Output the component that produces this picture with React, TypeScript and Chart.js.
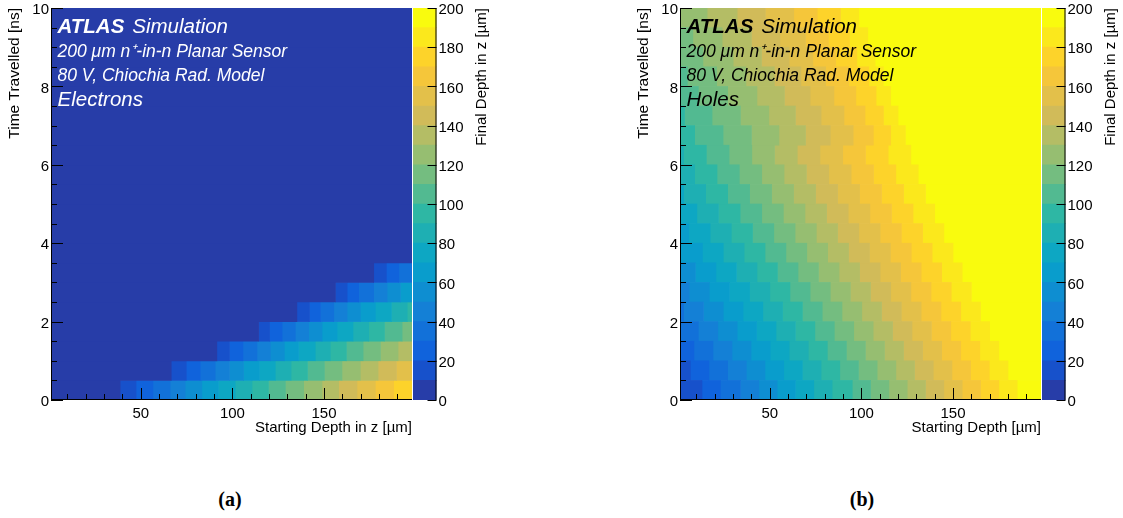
import React, { useEffect, useRef } from "react";
import { Chart, registerables } from "chart.js";

Chart.register(...registerables);

const SANS = "'Liberation Sans', Arial, Helvetica, sans-serif";
const SERIF = "'Liberation Serif', 'Times New Roman', serif";

// ---------------- data ----------------
// lower edges of the 0.5 ns time rows
const timeBinLowNs = [0, 0.5, 1, 1.5, 2, 2.5, 3, 3.5, 4, 4.5, 5, 5.5, 6, 6.5, 7, 7.5, 8, 8.5, 9, 9.5];
const timeBinWidthNs = 0.5;
const timeTickLabels = [0, 2, 4, 6, 8, 10];
const depthTickLabels = [50, 100, 150];
const depthRangeUm = [1, 198];
// colour levels of the final depth (µm)
const colourLevelsUm = [0, 10, 20, 30, 40, 50, 60, 70, 80, 90, 100, 110, 120, 130, 140, 150, 160, 170, 180, 190, 200];
const colourTickLabels = [0, 20, 40, 60, 80, 100, 120, 140, 160, 180, 200];

// Electrons: colour level at the first starting depth of each time row,
// and the starting depths (µm) where the final-depth level goes up by one.
const electronStartLevel = [0, 0, 0, 0, 0, 0, 0, 0, 0, 0, 0, 0, 0, 0, 0, 0, 0, 0, 0, 0];
const electronLevelEdgesUm = [
  [38.7, 47.4, 56.6, 66, 74.2, 83.3, 92.4, 101.5, 110.7, 119.7, 128.9, 138.9, 148.9, 158, 168, 178, 188],
  [66.6, 74.8, 82.4, 90.6, 98.4, 106.1, 114.8, 123.4, 132, 141, 150.2, 159.8, 169.8, 179.5, 189.5],
  [91.5, 98.4, 105.7, 113.4, 120.7, 128.3, 136.1, 145.2, 153.4, 162.2, 171.3, 180.8, 190.4],
  [114.3, 120.3, 127.1, 134.3, 141.6, 148.9, 157.1, 165.8, 174.4, 183, 192.6],
  [135.2, 142.1, 148, 155.3, 162.6, 169.8, 178, 186.8, 195.4],
  [156.2, 162.6, 168.9, 177.1, 184.4, 191.7],
  [177.1, 184, 190.8],
  [], [], [], [], [], [], [], [], [], [], [], [], [],
];

// Holes
const holeStartLevel = [1, 1, 2, 3, 3, 4, 5, 6, 6, 7, 7, 8, 8, 9, 9, 10, 10, 11, 11, 12];
const holeLevelEdgesUm = [
  [13, 23, 34, 44, 54, 64, 74, 84, 95, 105, 115, 125, 135, 145, 155, 165, 175, 185],
  [6.6, 16.8, 27, 37.2, 47.4, 57.6, 67.8, 78, 88.2, 98.4, 108.6, 118.8, 129, 139.2, 149.4, 159.6, 169.8, 180],
  [8.6, 19, 29.4, 39.8, 50.2, 60.6, 71, 81.4, 91.8, 102.2, 112.6, 123, 133.4, 143.8, 154.2, 164.6, 175],
  [11, 21.6, 32.2, 42.8, 53.4, 64, 74.6, 85.2, 95.8, 106.4, 117, 127.6, 138.2, 148.8, 159.4, 170],
  [3, 13.8, 24.6, 35.4, 46.2, 57, 67.8, 78.6, 89.4, 100.2, 111, 121.8, 132.6, 143.4, 154.2, 165],
  [6, 17, 28, 39, 50, 61, 72, 83, 94, 105, 116, 127, 138, 149, 160],
  [9.4, 20.6, 31.8, 43, 54.2, 65.4, 76.6, 87.8, 99, 110.2, 121.4, 132.6, 143.8, 155],
  [13.2, 24.6, 36, 47.4, 58.8, 70.2, 81.6, 93, 104.4, 115.8, 127.2, 138.6, 150],
  [5.8, 17.4, 29, 40.6, 52.2, 63.8, 75.4, 87, 98.6, 110.2, 121.8, 133.4, 145],
  [10.2, 22, 33.8, 45.6, 57.4, 69.2, 81, 92.8, 104.6, 116.4, 128.2, 140],
  [3, 15, 27, 39, 51, 63, 75, 87, 99, 111, 123, 135],
  [9, 21.2, 33.4, 45.6, 57.8, 70, 82.2, 94.4, 106.6, 118.8, 131],
  [3, 15.4, 27.8, 40.2, 52.6, 65, 77.4, 89.8, 102.2, 114.6, 127],
  [9, 24.5, 40, 55, 69.5, 83, 95.5, 106.5, 116, 124],
  [3.5, 18.5, 34, 49.5, 64, 78, 90.5, 102, 112, 120],
  [11, 27, 43, 58, 72, 85, 97, 108, 116],
  [5, 21, 37, 52.5, 67, 80.5, 93, 104, 112],
  [13.5, 30, 45.5, 60.5, 73.5, 86, 97.5, 107.5],
  [8, 24, 40, 55.5, 69.5, 82, 93.5, 103.5],
  [15.8, 32.2, 47.6, 63.1, 75.9, 88.6, 98.6],
];

// ---------------- palette (ROOT "bird") ----------------
const birdStops = [0, 0.125, 0.25, 0.375, 0.5, 0.625, 0.75, 0.875, 1];
const birdR = [0.2082, 0.0592, 0.078, 0.0232, 0.1802, 0.5301, 0.8186, 0.9956, 0.9764];
const birdG = [0.1664, 0.3599, 0.5041, 0.6419, 0.7178, 0.7492, 0.7328, 0.7862, 0.9832];
const birdB = [0.5293, 0.8684, 0.8385, 0.7914, 0.6425, 0.4662, 0.3499, 0.1968, 0.0539];

function birdColour(f: number): string {
  let k = 0;
  while (k < birdStops.length - 2 && f > birdStops[k + 1]) k++;
  const t = (f - birdStops[k]) / (birdStops[k + 1] - birdStops[k]);
  const c = (a: number[]) => Math.round(255 * (a[k] + (a[k + 1] - a[k]) * t));
  return `rgb(${c(birdR)},${c(birdG)},${c(birdB)})`;
}

const nLevels = colourLevelsUm.length - 1;
const levelColours = colourLevelsUm
  .slice(0, -1)
  .map((_, i) => birdColour(Math.min(1, Math.floor(((i + 0.99) * 255) / nLevels) / 254)));

function levelSegments(startLevels: number[], edges: number[][]) {
  const perLevel: { x: [number, number]; y: number }[][] = levelColours.map(() => []);
  timeBinLowNs.forEach((t, r) => {
    const y = t + timeBinWidthNs / 2;
    let lvl = startLevels[r];
    let x0 = depthRangeUm[0];
    for (const e of edges[r]) {
      perLevel[lvl].push({ x: [x0, e], y });
      x0 = e;
      lvl++;
    }
    perLevel[Math.min(lvl, nLevels - 1)].push({ x: [x0, depthRangeUm[1]], y });
  });
  return perLevel;
}

// ---------------- panel ----------------
type PanelProps = {
  left: number;
  startLevels: number[];
  edges: number[][];
  label: string;
  textColour: string;
  xTitle: string;
};

function Panel({ left, startLevels, edges, label, textColour, xTitle }: PanelProps) {
  const heatRef = useRef<HTMLCanvasElement>(null);
  const barRef = useRef<HTMLCanvasElement>(null);

  useEffect(() => {
    const segs = levelSegments(startLevels, edges);
    const tickFont = { family: SANS, size: 15 };

    const frameTicks = {
      id: "frameTicks",
      afterDatasetsDraw(chart: any) {
        const { ctx, chartArea: a, scales } = chart;
        const x = scales.x;
        const y = scales.y;
        ctx.save();
        ctx.strokeStyle = "#000";
        ctx.lineWidth = 1;
        ctx.beginPath();
        ctx.moveTo(a.left + 0.5, a.top);
        ctx.lineTo(a.left + 0.5, a.bottom);
        ctx.moveTo(a.left, a.bottom - 0.5);
        ctx.lineTo(a.right, a.bottom - 0.5);
        for (let v = 0; v <= 10.001; v += 0.5) {
          const major = timeTickLabels.some((m) => Math.abs(m - v) < 1e-6);
          const py = Math.round(y.getPixelForValue(v)) + 0.5;
          ctx.moveTo(a.left, py);
          ctx.lineTo(a.left + (major ? 12 : 6), py);
        }
        for (let v = 10; v <= 190; v += 10) {
          const major = depthTickLabels.includes(v);
          const px = Math.round(x.getPixelForValue(v)) + 0.5;
          ctx.moveTo(px, a.bottom);
          ctx.lineTo(px, a.bottom - (major ? 12 : 6));
        }
        ctx.stroke();
        ctx.restore();
      },
      afterDraw(chart: any) {
        const { ctx, chartArea: a } = chart;
        const x0 = a.left + 6.5;
        ctx.save();
        ctx.fillStyle = textColour;
        ctx.textBaseline = "alphabetic";
        ctx.textAlign = "left";
        ctx.font = `italic bold 20.5px ${SANS}`;
        ctx.fillText("ATLAS", x0, 33);
        const w = ctx.measureText("ATLAS").width;
        ctx.font = `italic 20.5px ${SANS}`;
        ctx.fillText("Simulation", x0 + w + 8, 33);
        ctx.font = `italic 17.5px ${SANS}`;
        ctx.fillText("200 μm n⁺-in-n Planar Sensor", x0, 56.5);
        ctx.fillText("80 V, Chiochia Rad. Model", x0, 81);
        ctx.font = `italic 20.5px ${SANS}`;
        ctx.fillText(label, x0, 106);
        ctx.restore();
      },
    };

    const heat = new Chart(heatRef.current as HTMLCanvasElement, {
      type: "bar",
      data: {
        datasets: segs.map((d, i) => ({
          data: d as any,
          backgroundColor: levelColours[i],
          borderWidth: 0,
          grouped: false,
          barPercentage: 1,
          categoryPercentage: 1,
        })),
      },
      options: {
        indexAxis: "y",
        responsive: false,
        animation: false,
        devicePixelRatio: 1,
        events: [],
        layout: { padding: { top: 8, left: 0, right: 0, bottom: 0 } },
        plugins: { legend: { display: false }, tooltip: { enabled: false } },
        scales: {
          x: {
            type: "linear",
            min: depthRangeUm[0],
            max: depthRangeUm[1],
            offset: false,
            afterBuildTicks: (s: any) => {
              s.ticks = depthTickLabels.map((v) => ({ value: v }));
            },
            ticks: { font: tickFont, color: "#000", padding: 5, maxRotation: 0, autoSkip: false },
            grid: { display: false, drawTicks: false },
            border: { display: false },
            title: {
              display: true,
              text: xTitle,
              align: "end",
              color: "#000",
              font: { family: SANS, size: 15 },
              padding: { top: 0, bottom: 8 },
            },
            afterFit: (s: any) => {
              s.height = 45;
              s.paddingLeft = 0;
              s.paddingRight = 0;
            },
          },
          y: {
            type: "linear",
            min: 0,
            max: 10,
            offset: false,
            afterBuildTicks: (s: any) => {
              s.ticks = timeTickLabels.map((v) => ({ value: v }));
            },
            ticks: { font: tickFont, color: "#000", padding: 2, autoSkip: false, labelOffset: 2 },
            grid: { display: false, drawTicks: false },
            border: { display: false },
            title: {
              display: true,
              text: "Time Travelled [ns]",
              align: "end",
              color: "#000",
              font: { family: SANS, size: 15.5 },
              padding: { top: 5, bottom: 0 },
            },
            afterFit: (s: any) => {
              s.width = 51;
              s.paddingTop = 0;
              s.paddingBottom = 0;
            },
          },
        },
      } as any,
      plugins: [frameTicks],
    });

    const barDecor = {
      id: "barDecor",
      afterDatasetsDraw(chart: any) {
        const { ctx, chartArea: a, scales } = chart;
        const y = scales.y;
        ctx.save();
        ctx.strokeStyle = "#000";
        ctx.lineWidth = 1;
        ctx.beginPath();
        ctx.moveTo(a.right - 0.5, a.top);
        ctx.lineTo(a.right - 0.5, a.bottom);
        for (const v of colourTickLabels) {
          const py = Math.round(y.getPixelForValue(v)) + 0.5;
          ctx.moveTo(a.right, py);
          ctx.lineTo(a.right - 9, py);
        }
        ctx.stroke();
        ctx.translate(68.5, a.top);
        ctx.rotate(-Math.PI / 2);
        ctx.fillStyle = "#000";
        ctx.font = `15px ${SANS}`;
        ctx.textAlign = "right";
        ctx.textBaseline = "middle";
        ctx.fillText("Final Depth in z [µm]", 0, 0);
        ctx.restore();
      },
    };

    const bar = new Chart(barRef.current as HTMLCanvasElement, {
      type: "bar",
      data: {
        labels: [""],
        datasets: levelColours.map((c, i) => ({
          data: [[colourLevelsUm[i], colourLevelsUm[i + 1]]] as any,
          backgroundColor: c,
          borderWidth: 0,
          grouped: false,
          barPercentage: 1,
          categoryPercentage: 1,
        })),
      },
      options: {
        responsive: false,
        animation: false,
        devicePixelRatio: 1,
        events: [],
        layout: { padding: { top: 8, bottom: 45, left: 0, right: 0 } },
        plugins: { legend: { display: false }, tooltip: { enabled: false } },
        scales: {
          x: { display: false, offset: true },
          y: {
            position: "right",
            min: 0,
            max: 200,
            offset: false,
            afterBuildTicks: (s: any) => {
              s.ticks = colourTickLabels.map((v) => ({ value: v }));
            },
            ticks: { font: tickFont, color: "#000", padding: 2, autoSkip: false, labelOffset: 2 },
            grid: { display: false, drawTicks: false },
            border: { display: false },
            afterFit: (s: any) => {
              s.width = 56.5;
              s.paddingTop = 0;
              s.paddingBottom = 0;
            },
          },
        },
      } as any,
      plugins: [barDecor],
    });

    return () => {
      heat.destroy();
      bar.destroy();
    };
  }, []);

  return (
    <>
      <canvas
        ref={heatRef}
        width={412}
        height={445}
        style={{ position: "absolute", left, top: 0, width: 412, height: 445 }}
      />
      <canvas
        ref={barRef}
        width={80}
        height={445}
        style={{ position: "absolute", left: left + 413, top: 0, width: 80, height: 445 }}
      />
    </>
  );
}

const captionStyle: React.CSSProperties = {
  position: "absolute",
  top: 487,
  width: 60,
  textAlign: "center",
  fontFamily: SERIF,
  fontWeight: "bold",
  fontSize: 20,
  lineHeight: "24px",
  color: "#000",
};

export default function App() {
  return (
    <div style={{ position: "absolute", left: 0, top: 0, width: 1123, height: 518, background: "#fff", overflow: "hidden" }}>
      <Panel
        left={0}
        startLevels={electronStartLevel}
        edges={electronLevelEdgesUm}
        label="Electrons"
        textColour="#fff"
        xTitle="Starting Depth in z [µm]"
      />
      <Panel
        left={629}
        startLevels={holeStartLevel}
        edges={holeLevelEdgesUm}
        label="Holes"
        textColour="#000"
        xTitle="Starting Depth [µm]"
      />
      <div style={{ ...captionStyle, left: 200 }}>(a)</div>
      <div style={{ ...captionStyle, left: 832 }}>(b)</div>
    </div>
  );
}
